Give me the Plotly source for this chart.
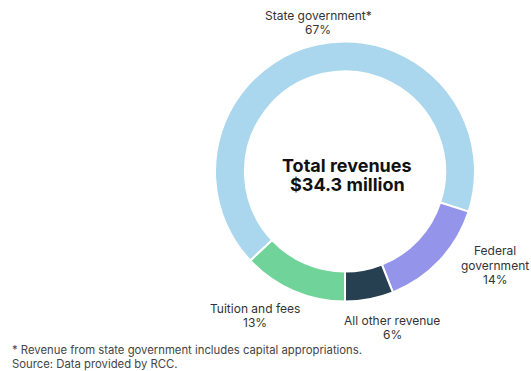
import plotly.graph_objects as go

# Revenue shares (percent), listed clockwise starting from 6 o'clock
categories = ["Tuition and fees", "State government*", "Federal government", "All other revenue"]
shares = [13, 67, 14, 6]
colors = ["#70d49a", "#aad7ee", "#9495ea", "#263f51"]

total_label = "Total revenues"
total_value = "$34.3 million"
footnotes = [
    "* Revenue from state government includes capital appropriations.",
    "Source: Data provided by RCC.",
]

W, H = 531, 371
cx, cy, r = 345, 171.5, 130  # donut centre / radius in pixels


def px(x):
    return x / W


def py(y):
    return 1 - y / H


fig = go.Figure(
    go.Pie(
        labels=categories,
        values=shares,
        hole=0.77,
        sort=False,
        direction="clockwise",
        rotation=180,
        marker=dict(colors=colors, line=dict(color="white", width=2)),
        textinfo="none",
        hoverinfo="label+percent",
        domain=dict(x=[px(cx - r), px(cx + r)], y=[py(cy + r), py(cy - r)]),
    )
)

label_font = dict(family="Inter, Roboto, sans-serif", size=12, color="#333333")

# Slice label placement: (centre x, list of line y positions)
label_pos = {
    "State government*": (318, [15, 29]),
    "Federal government": (495, [250, 265, 279]),
    "Tuition and fees": (255, [308, 322]),
    "All other revenue": (392, [320, 334]),
}
line_breaks = {"Federal government": ["Federal", "government"]}

annotations = []
for cat, val in zip(categories, shares):
    x, ys = label_pos[cat]
    lines = line_breaks.get(cat, [cat]) + [f"{val}%"]
    for text, y in zip(lines, ys):
        annotations.append(
            dict(
                x=px(x), y=py(y), xref="paper", yref="paper",
                text=text, showarrow=False, xanchor="center", yanchor="middle",
                font=label_font,
            )
        )

centre_font = dict(family="Inter, Roboto, sans-serif", size=18, color="#111111")
for text, y in [(total_label, 165), (total_value, 185)]:
    annotations.append(
        dict(
            x=px(cx + 2), y=py(y), xref="paper", yref="paper",
            text=f"<b>{text}</b>", showarrow=False, xanchor="center", yanchor="middle",
            font=centre_font,
        )
    )

note_font = dict(family="Inter, Roboto, sans-serif", size=11.3, color="#444444")
for text, y in zip(footnotes, [350, 364]):
    annotations.append(
        dict(
            x=px(10), y=py(y), xref="paper", yref="paper",
            text=text, showarrow=False, xanchor="left", yanchor="middle",
            font=note_font,
        )
    )

fig.update_layout(
    width=W,
    height=H,
    margin=dict(l=0, r=0, t=0, b=0),
    paper_bgcolor="white",
    plot_bgcolor="white",
    showlegend=False,
    annotations=annotations,
)

fig.write_html("out.html")
